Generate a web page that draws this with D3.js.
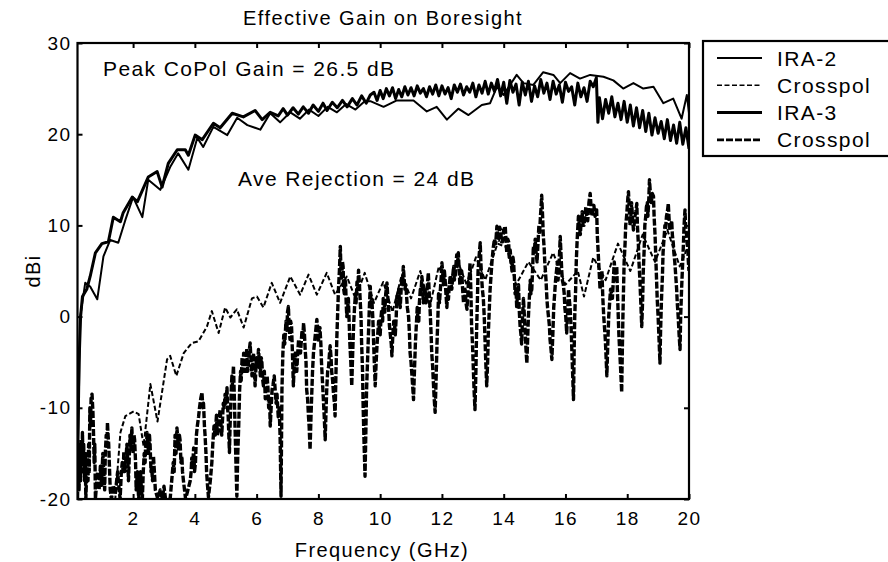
<!DOCTYPE html>
<html>
<head>
<meta charset="utf-8">
<script src="https://cdn.jsdelivr.net/npm/d3@7"></script>
<style>
  body { margin: 0; background: #fff; }
  text { font-family: "Liberation Sans", Arial, sans-serif; fill: #000; letter-spacing: 1.4px; }
</style>
</head>
<body>
<div id="chart"></div>
<script>
// [frequency GHz, dBi]
var xTicks = [2, 4, 6, 8, 10, 12, 14, 16, 18, 20];
var yTicks = [-20, -10, 0, 10, 20, 30];

var ira2 = [[0.2,-17],[0.29,0],[0.45,3.7],[0.61,3.3],[0.84,1.9],[1.04,6.6],[1.26,8.4],[1.52,8.1],[1.75,10.6],[2.0,13.1],
  [2.3,10.9],[2.49,15.0],[2.88,13.9],[3.2,16.4],[3.46,17.9],[3.79,16.1],[4.08,19.6],[4.27,18.6],[4.6,20.8],[5.05,19.9],
  [5.37,21.8],[5.7,21.0],[6.12,20.5],[6.44,22.3],[6.76,21.3],[7.09,22.4],[7.4,21.7],[7.7,22.7],[8.0,22.0],[8.3,23.0],
  [8.6,22.4],[8.9,23.3],[9.2,22.7],[9.5,23.6],[9.7,23.6],[10.11,23.0],[10.54,23.7],[11.08,23.7],[11.51,22.5],[11.83,23.0],
  [12.16,21.6],[12.53,22.8],[12.86,22.1],[13.29,23.2],[13.56,23.4],[13.78,25.2],[13.99,24.3],[14.42,26.5],[14.64,25.6],
  [14.96,25.4],[15.28,26.8],[15.61,26.5],[15.83,25.6],[16.15,26.7],[16.47,26.1],[16.8,26.5],[17.23,26.3],[17.55,25.9],
  [17.87,25.0],[18.2,25.6],[18.52,25.0],[18.85,25.2],[19.17,23.4],[19.49,23.9],[19.76,21.7],[19.93,24.3],[20,22.3]];

var ira3 = [[0.2,-17],[0.25,-5],[0.3,0],[0.36,2.2],[0.5,3.0],[0.61,4.4],[0.78,7.0],[0.99,8.0],[1.2,8.2],[1.36,10.9],
  [1.59,10.4],[1.68,11.4],[1.97,13.1],[2.14,12.6],[2.49,15.3],[2.78,15.9],[2.94,14.2],[3.14,16.8],[3.43,18.3],[3.69,18.3],
  [3.79,17.7],[4.01,19.9],[4.24,19.4],[4.6,21.2],[4.82,20.7],[5.21,22.3],[5.57,21.9],[5.95,22.6],[6.18,21.6],[6.44,22.4],
  [6.7,22.0],[6.86,22.8],[7.0,22.1],[7.18,22.9],[7.35,22.2],[7.51,23.0],[7.68,22.3],[7.83,23.2],[8.0,22.5],[8.15,23.4],
  [8.28,22.6],[8.45,23.5],[8.61,22.9],[8.78,23.7],[8.93,23.0],[9.1,23.9],[9.25,23.2],[9.4,24.2],[9.55,23.4],[9.68,24.3],
  [9.8,24.6],[9.9,23.7],[10.0,24.8],[10.1,23.9],[10.2,25.0],[10.3,24.2],[10.4,25.1],[10.5,23.9],[10.6,24.9],[10.7,24.1],
  [10.8,25.2],[10.9,24.3],[11.0,25.1],[11.1,24.2],[11.2,25.3],[11.3,24.5],[11.4,25.0],[11.5,24.1],[11.6,25.2],[11.7,24.4],
  [11.8,25.4],[11.9,24.2],[12.0,25.3],[12.1,24.4],[12.2,25.1],[12.3,23.9],[12.4,25.4],[12.5,24.6],[12.6,25.5],[12.7,24.3],
  [12.8,25.2],[12.9,24.6],[13.0,25.6],[13.1,24.1],[13.2,25.4],[13.3,24.5],[13.4,25.8],[13.5,24.4],[13.6,25.6],[13.7,24.7],
  [13.8,26.0],[13.9,24.2],[14.0,25.7],[14.1,23.4],[14.2,25.9],[14.3,24.6],[14.4,25.5],[14.5,23.2],[14.6,25.7],[14.7,24.3],
  [14.8,25.8],[14.9,23.6],[15.0,25.3],[15.1,24.1],[15.2,26.0],[15.3,24.5],[15.4,25.6],[15.5,23.8],[15.6,25.8],[15.7,24.4],
  [15.8,25.4],[15.9,23.5],[16.0,25.7],[16.1,24.7],[16.2,25.2],[16.3,23.2],[16.4,25.6],[16.5,24.1],[16.6,25.1],[16.7,23.6],
  [16.8,25.8],[16.9,25.2],[17.0,26.2],[17.05,21.3],[17.1,24.0],[17.2,21.7],[17.3,23.8],[17.4,22.3],[17.5,24.1],[17.6,21.9],
  [17.7,23.4],[17.8,21.6],[17.9,23.6],[18.0,21.3],[18.1,23.2],[18.2,20.9],[18.3,22.9],[18.4,20.7],[18.5,22.6],[18.6,20.3],
  [18.7,22.3],[18.8,19.9],[18.9,21.8],[19.0,20.1],[19.1,21.4],[19.2,19.5],[19.3,21.6],[19.4,19.3],[19.5,21.0],[19.6,19.0],
  [19.7,21.3],[19.8,18.9],[19.9,20.7],[20.0,18.4]];

var ira2x = [[1.4,-21],[1.59,-12.7],[1.75,-10.9],[2.02,-10.4],[2.18,-10.7],[2.34,-14.2],[2.56,-7.4],[2.79,-11.5],[3.1,-4.7],
  [3.2,-4.3],[3.4,-6.5],[3.64,-4.0],[3.9,-2.9],[4.12,-2.7],[4.39,-1.1],[4.55,0.6],[4.77,-1.8],[4.98,1.0],[5.15,-0.1],
  [5.36,0.8],[5.58,-1.2],[5.85,2.0],[6.01,2.2],[6.22,1.0],[6.49,3.7],[6.76,1.5],[7.09,4.4],[7.41,2.4],[7.68,4.6],[7.95,2.4],
  [8.27,4.8],[8.54,2.4],[8.92,4.4],[9.2,2.0],[9.5,4.8],[9.8,1.5],[10.1,3.8],[10.4,0.5],[10.7,4.6],[11.0,2.0],[11.3,5.0],
  [11.6,1.0],[11.9,5.5],[12.2,3.0],[12.5,6.2],[12.8,3.5],[13.1,6.5],[13.4,4.0],[13.8,8.0],[14.1,7.6],[14.4,3.5],[14.8,6.0],
  [15.2,4.0],[15.6,7.0],[16.0,3.5],[16.4,5.0],[16.6,2.2],[16.9,6.5],[17.3,4.0],[17.7,8.0],[18.1,5.0],[18.5,9.0],[18.9,6.0],
  [19.3,9.5],[19.7,5.5],[20.0,8.0]];

var ira3x = [[0.2,-20],[0.23,-15],[0.25,-19],[0.28,-14],[0.3,-18],[0.31,-13.5],[0.34,-17],[0.36,-12.7],[0.38,-16],[0.4,-14],
  [0.43,-18],[0.45,-15],[0.47,-20],[0.52,-15],[0.54,-18],[0.56,-14],[0.58,-17],[0.6,-10],[0.62,-12],[0.64,-9],[0.67,-8.5],
  [0.7,-10.5],[0.72,-13],[0.74,-16],[0.76,-14],[0.78,-20],[0.85,-17],[0.9,-19],[0.94,-16.4],[0.98,-18.5],[1.02,-15],
  [1.05,-17],[1.08,-19],[1.1,-15],[1.13,-13],[1.15,-14.5],[1.17,-11.6],[1.19,-13],[1.21,-14],[1.24,-17],[1.26,-19],[1.3,-20],
  [1.36,-18.5],[1.42,-19.5],[1.5,-17],[1.55,-19],[1.58,-20],[1.62,-17],[1.65,-16],[1.68,-17],[1.7,-14.8],[1.73,-17],
  [1.75,-16.5],[1.78,-15],[1.8,-14],[1.83,-16],[1.85,-18],[1.88,-15],[1.9,-13],[1.93,-14.5],[1.96,-12.2],[1.98,-14],[2.0,-15],
  [2.03,-13],[2.05,-13.5],[2.08,-16],[2.1,-19],[2.14,-17],[2.18,-20],[2.24,-17],[2.27,-19],[2.3,-20],[2.33,-17],[2.36,-15],
  [2.39,-16],[2.41,-13.5],[2.43,-15],[2.45,-12.7],[2.48,-14],[2.5,-15],[2.53,-13],[2.55,-14],[2.58,-17],[2.6,-16.5],
  [2.63,-18],[2.66,-15.3],[2.69,-17],[2.72,-19],[2.8,-20],[2.88,-19],[2.95,-20],[3.0,-18.6],[3.05,-20],[3.2,-20],[3.25,-18],
  [3.3,-16],[3.33,-17],[3.36,-13],[3.39,-15],[3.42,-12.2],[3.45,-13.5],[3.47,-14.5],[3.5,-13],[3.52,-13.5],[3.55,-16],
  [3.58,-15.3],[3.6,-17],[3.63,-18],[3.7,-20],[3.85,-18],[3.88,-17],[3.9,-15.5],[3.93,-16.5],[3.96,-14.4],[3.99,-17],
  [4.02,-16],[4.05,-13],[4.08,-12],[4.12,-11],[4.15,-10],[4.19,-9],[4.23,-8.3],[4.26,-10],[4.28,-9.5],[4.31,-12],[4.33,-13],
  [4.36,-15],[4.38,-17],[4.41,-18.5],[4.44,-19.8],[4.5,-18],[4.55,-16],[4.58,-14],[4.62,-12],[4.66,-13],[4.7,-10.8],
  [4.73,-13],[4.76,-12.5],[4.79,-11],[4.82,-10.2],[4.85,-12],[4.87,-13],[4.9,-11],[4.92,-9.5],[4.95,-10],[4.98,-8.5],
  [5.01,-9.5],[5.04,-7.8],[5.06,-10],[5.08,-11],[5.1,-13],[5.12,-14.9],[5.14,-12],[5.16,-10],[5.18,-8],[5.2,-6.5],
  [5.22,-7.5],[5.25,-5.4],[5.28,-9],[5.3,-12],[5.33,-16],[5.36,-19.7],[5.39,-15],[5.42,-12],[5.45,-8],[5.48,-6],[5.5,-7],
  [5.53,-4.5],[5.56,-6],[5.58,-4.0],[5.61,-5],[5.63,-6],[5.66,-4.5],[5.68,-3.5],[5.71,-6],[5.74,-5],[5.77,-3.5],[5.79,-2.9],
  [5.82,-5],[5.85,-6.5],[5.88,-5],[5.9,-4],[5.93,-6],[5.95,-7.6],[5.98,-5.5],[6.0,-4.5],[6.03,-5.5],[6.06,-3.6],[6.09,-5],
  [6.12,-6.5],[6.15,-4.5],[6.17,-5],[6.2,-7],[6.22,-7.6],[6.25,-6],[6.28,-9],[6.31,-7],[6.34,-6.5],[6.37,-8],[6.39,-10],
  [6.42,-9],[6.44,-12.0],[6.47,-10],[6.5,-8],[6.53,-7.5],[6.57,-6.5],[6.6,-8],[6.63,-9.5],[6.66,-8.5],[6.7,-11],[6.73,-10],
  [6.76,-13.1],[6.79,-19.7],[6.82,-8],[6.85,-4],[6.88,-2],[6.91,-3],[6.95,-0.5],[6.98,-1.5],[7.0,0.5],[7.03,1.1],[7.05,-1],
  [7.08,-2.5],[7.1,-0.5],[7.13,-1],[7.16,-4],[7.19,-7.6],[7.22,-5],[7.25,-4],[7.28,-5],[7.3,-6],[7.33,-4],[7.36,-2.5],
  [7.39,-3],[7.42,-4],[7.45,-2.5],[7.47,-1.5],[7.5,-2],[7.52,-0.7],[7.55,-2],[7.57,-3.5],[7.6,-5],[7.62,-8],[7.65,-9],
  [7.68,-11],[7.7,-12],[7.73,-14.6],[7.76,-11],[7.78,-9],[7.81,-6],[7.84,-4],[7.87,-3],[7.9,-2],[7.93,-1],[7.95,-0.3],
  [7.98,-1.5],[8.0,-2.8],[8.03,-1.5],[8.05,-1.2],[8.08,-3],[8.1,-5],[8.13,-7],[8.16,-9],[8.19,-11],[8.22,-13.5],[8.25,-10],
  [8.27,-8],[8.3,-6],[8.33,-5.5],[8.36,-4],[8.38,-3.2],[8.41,-4.5],[8.43,-6],[8.46,-7],[8.49,-8.5],[8.52,-9.5],[8.54,-10.9],
  [8.57,-6],[8.6,-2],[8.63,1],[8.65,3],[8.68,5],[8.71,7.7],[8.73,5],[8.75,4],[8.78,6],[8.8,5.5],[8.82,3],[8.84,2.5],[8.86,4],
  [8.88,3.8],[8.9,1.5],[8.92,0.0],[8.95,1],[8.97,2],[9.0,-1],[9.02,-3],[9.05,-5],[9.08,-7.6],[9.11,-4],[9.14,-1],[9.17,1],
  [9.2,2.5],[9.22,1.5],[9.25,3.8],[9.28,3],[9.3,5.1],[9.33,3.5],[9.35,2],[9.38,0],[9.4,-3],[9.43,-6],[9.45,-10],[9.48,-14],
  [9.51,-17.5],[9.54,-12],[9.56,-8],[9.59,-5],[9.62,-2],[9.65,1],[9.68,3.3],[9.7,1.5],[9.73,1.9],[9.76,0],[9.78,-2],
  [9.81,-5],[9.84,-7.6],[9.87,-5],[9.9,-3],[9.93,-1.5],[9.95,-0.5],[9.98,-1.5],[10.0,-2],[10.03,0],[10.05,0.8],[10.08,-0.5],
  [10.1,2],[10.13,1.5],[10.15,0.5],[10.18,2.5],[10.22,3.7],[10.25,2],[10.28,0.5],[10.3,-1],[10.33,-2],[10.36,-3],[10.38,-4.3],
  [10.41,-2],[10.44,-0.5],[10.47,-1],[10.49,-2],[10.52,0],[10.54,2.2],[10.57,1.5],[10.6,3],[10.62,2],[10.65,1],[10.68,3],
  [10.7,4.2],[10.72,3.5],[10.75,5.5],[10.78,4],[10.8,3],[10.83,3.5],[10.85,2.5],[10.88,1],[10.92,0.0],[10.95,-2],[10.97,-4],
  [11.0,-5],[11.02,-6],[11.05,-7.5],[11.08,-9.1],[11.11,-6],[11.14,-3],[11.17,-1],[11.2,1],[11.22,0],[11.25,-0.5],[11.27,1.5],
  [11.3,3],[11.32,2.5],[11.35,4.4],[11.38,3],[11.4,1.5],[11.43,2.5],[11.45,3.2],[11.48,1.5],[11.5,2],[11.53,3.5],[11.56,4.8],
  [11.59,2.5],[11.62,0.5],[11.65,-2],[11.67,-4],[11.7,-5.5],[11.72,-7],[11.75,-9],[11.78,-10.5],[11.81,-7],[11.84,-3],
  [11.87,0],[11.89,2.5],[11.92,1.5],[11.95,3],[11.98,4.5],[12.0,5.9],[12.03,4.5],[12.05,3.5],[12.08,5],[12.1,4.2],[12.13,2.5],
  [12.16,1],[12.18,2.5],[12.21,1.9],[12.24,3.5],[12.27,4.5],[12.3,3.5],[12.32,3],[12.35,4.5],[12.38,5.5],[12.4,4],[12.43,4.5],
  [12.46,6],[12.48,6.8],[12.5,5.5],[12.53,7.0],[12.56,5],[12.58,3.5],[12.61,4.5],[12.64,5],[12.67,3],[12.7,1.5],[12.72,2],
  [12.75,3],[12.78,1.5],[12.81,0.8],[12.84,2.5],[12.86,4],[12.89,4.5],[12.91,5.9],[12.94,2.5],[12.96,-1],[12.99,-3],
  [13.01,-5],[13.04,-8],[13.07,-10.2],[13.1,-6],[13.12,-2],[13.15,2],[13.17,5],[13.2,6.5],[13.24,8.1],[13.26,6],[13.29,4],
  [13.31,3],[13.34,2],[13.37,0],[13.4,-3],[13.42,-5],[13.45,-7.6],[13.48,-5],[13.5,-2],[13.53,0.5],[13.56,3],[13.59,4.5],
  [13.62,6],[13.66,7.5],[13.7,8.5],[13.74,8],[13.78,9.9],[13.81,8.5],[13.84,8.4],[13.87,9.8],[13.9,9.5],[13.93,8.2],
  [13.96,8.2],[14.0,9.5],[14.05,9.9],[14.08,8],[14.1,7],[14.13,8.5],[14.16,8.2],[14.18,6.5],[14.21,7.3],[14.24,6],[14.27,5],
  [14.3,6.5],[14.32,6],[14.35,4],[14.37,2.5],[14.4,3],[14.42,1.1],[14.45,2.5],[14.48,3.5],[14.5,1],[14.53,-1],[14.56,-2],
  [14.58,-3],[14.61,0],[14.64,2],[14.67,0],[14.7,-2],[14.72,-3.5],[14.75,-5.1],[14.78,-2],[14.8,0],[14.83,2],[14.86,4],
  [14.88,2.5],[14.91,3],[14.94,5.5],[14.96,7.7],[14.99,7],[15.02,8.5],[15.05,7],[15.08,6],[15.11,8],[15.14,10],[15.16,9],
  [15.19,11],[15.21,12],[15.23,13.3],[15.26,11],[15.28,9],[15.31,7.5],[15.33,6],[15.37,4],[15.4,1.9],[15.42,1],[15.45,0],
  [15.48,-1],[15.5,-2.5],[15.53,-3.5],[15.56,-4.7],[15.59,-2],[15.62,1],[15.65,2.5],[15.68,4],[15.71,5],[15.74,6],[15.76,4],
  [15.78,5],[15.81,7],[15.83,8.8],[15.86,6.5],[15.88,5],[15.9,4],[15.93,3.5],[15.96,2.5],[15.98,1],[16.01,0],[16.04,-1.8],
  [16.07,0.5],[16.1,3],[16.12,2],[16.15,1],[16.18,-1],[16.2,-3],[16.23,-6],[16.26,-9.1],[16.28,-4],[16.3,0],[16.33,3],
  [16.35,6],[16.38,8.5],[16.42,11.0],[16.45,10],[16.48,9],[16.51,10.5],[16.54,11.5],[16.57,10],[16.6,10],[16.63,11],
  [16.66,12],[16.69,11],[16.72,10.5],[16.76,12.5],[16.8,13.5],[16.83,12],[16.86,11],[16.89,11.5],[16.92,12.2],[16.96,11],
  [17.01,11.7],[17.03,9],[17.06,7],[17.09,5],[17.12,3],[17.15,4],[17.18,5],[17.21,2],[17.24,0],[17.26,-1],[17.29,-2.5],
  [17.31,-4],[17.34,-6.5],[17.37,-3],[17.4,0],[17.43,1.5],[17.46,3],[17.49,2.5],[17.52,2],[17.55,4],[17.58,6],[17.6,5],
  [17.62,4],[17.64,5],[17.66,5.5],[17.68,3],[17.71,0],[17.73,-2],[17.76,-4],[17.79,-6],[17.82,-8.3],[17.84,-4],[17.86,0],
  [17.88,3],[17.9,6],[17.93,8],[17.95,10],[17.98,11],[18.0,12],[18.02,13],[18.04,13.7],[18.07,11.5],[18.09,10],[18.12,11],
  [18.14,12.5],[18.17,11],[18.2,9.5],[18.22,10],[18.25,11],[18.28,11.5],[18.31,12.4],[18.33,10],[18.36,8],[18.38,6],
  [18.41,4],[18.44,1.5],[18.47,-1.1],[18.5,2],[18.52,5],[18.55,7.5],[18.57,10],[18.6,11],[18.62,12],[18.65,12.5],[18.67,11],
  [18.7,13],[18.72,15.0],[18.75,13.5],[18.78,12.5],[18.81,13.5],[18.85,13.2],[18.87,11],[18.9,9],[18.92,7],[18.95,4],
  [18.97,2],[19.0,0],[19.03,-2.5],[19.06,-5.1],[19.08,-1.5],[19.11,2],[19.14,4.5],[19.16,7],[19.19,8.5],[19.22,10],
  [19.24,9.5],[19.27,11],[19.3,11.5],[19.33,12.4],[19.35,11],[19.38,9.5],[19.41,10],[19.44,10.5],[19.46,9],[19.49,8.1],
  [19.51,7],[19.54,6],[19.57,4.5],[19.6,3],[19.62,1.5],[19.65,0],[19.68,-2],[19.71,-3.6],[19.73,0],[19.76,3],[19.79,5.5],
  [19.82,8],[19.84,10],[19.87,11.7],[19.89,10],[19.92,9],[19.94,8],[19.96,7.5],[19.98,6],[20.0,5]];

var legendLabels = ["IRA-2", "Crosspol", "IRA-3", "Crosspol"];

var W = 888, H = 562;
var m = {left: 77.5, right: 689, top: 43, bottom: 499};

var svg = d3.select("#chart").append("svg")
  .attr("width", W).attr("height", H);

var x = d3.scaleLinear().domain([0.2, 20]).range([m.left, m.right]);
var y = d3.scaleLinear().domain([-20, 30]).range([m.bottom, m.top]);

svg.append("clipPath").attr("id", "clip")
  .append("rect")
  .attr("x", m.left).attr("y", m.top)
  .attr("width", m.right - m.left).attr("height", m.bottom - m.top);

var line = d3.line().x(d => x(d[0])).y(d => y(d[1]));

var styles = [
  {data: ira2,  w: 2, dash: null},
  {data: ira2x, w: 2, dash: "5,2.5"},
  {data: ira3,  w: 3, dash: null},
  {data: ira3x, w: 3.4, dash: "7,2"}
];

var plot = svg.append("g").attr("clip-path", "url(#clip)");
[3, 1, 2, 0].forEach(function(i) {
  var s = styles[i];
  plot.append("path")
    .attr("d", line(s.data))
    .attr("fill", "none")
    .attr("stroke", "#000")
    .attr("stroke-width", s.w)
    .attr("stroke-linejoin", "round")
    .attr("stroke-dasharray", s.dash);
});

// axes, ticks point inward; plain hyphen for negatives like the original
function styleAxis(g) {
  g.select(".domain").remove();
  g.selectAll(".tick line").attr("stroke", "#000").attr("stroke-width", 2);
  g.selectAll("text").style("font-size", "19px").style("font-family", "Liberation Sans, Arial, sans-serif");
}
svg.append("g").attr("transform", "translate(0," + m.bottom + ")")
  .call(d3.axisBottom(x).tickValues(xTicks).tickSize(-5).tickPadding(13).tickFormat(String))
  .call(styleAxis);
svg.append("g").attr("transform", "translate(0," + m.top + ")")
  .call(d3.axisTop(x).tickValues(xTicks).tickSize(-5).tickFormat(""))
  .call(styleAxis);
svg.append("g").attr("transform", "translate(" + m.left + ",0)")
  .call(d3.axisLeft(y).tickValues(yTicks).tickSize(-5).tickPadding(6).tickFormat(String))
  .call(styleAxis);
svg.append("g").attr("transform", "translate(" + m.right + ",0)")
  .call(d3.axisRight(y).tickValues(yTicks).tickSize(-5).tickFormat(""))
  .call(styleAxis);

svg.append("rect")
  .attr("x", m.left).attr("y", m.top)
  .attr("width", m.right - m.left).attr("height", m.bottom - m.top)
  .attr("fill", "none").attr("stroke", "#000").attr("stroke-width", 2.2);

// titles and notes
svg.append("text").attr("x", 383).attr("y", 25).attr("text-anchor", "middle")
  .style("font-size", "20px").text("Effective Gain on Boresight");
svg.append("text").attr("x", 382).attr("y", 557).attr("text-anchor", "middle")
  .style("font-size", "20px").text("Frequency (GHz)");
svg.append("text").attr("transform", "translate(40,271) rotate(-90)").attr("text-anchor", "middle")
  .style("font-size", "20px").text("dBi");
svg.append("text").attr("x", 103).attr("y", 76)
  .style("font-size", "21px").text("Peak CoPol Gain = 26.5 dB");
svg.append("text").attr("x", 238).attr("y", 186)
  .style("font-size", "21px").text("Ave Rejection = 24 dB");

// legend
var lg = svg.append("g");
lg.append("rect").attr("x", 703).attr("y", 41).attr("width", 200).attr("height", 115)
  .attr("fill", "#fff").attr("stroke", "#000").attr("stroke-width", 2.2);
legendLabels.forEach(function(t, i) {
  var yy = 58 + i * 27.3;
  lg.append("line").attr("x1", 717).attr("x2", 762).attr("y1", yy).attr("y2", yy)
    .attr("stroke", "#000").attr("stroke-width", i % 2 ? styles[i].w * 0.8 : styles[i].w)
    .attr("stroke-dasharray", styles[i].dash);
  lg.append("text").attr("x", 777).attr("y", yy + 7.5)
    .style("font-size", "21px").text(t);
});
</script>
</body>
</html>
